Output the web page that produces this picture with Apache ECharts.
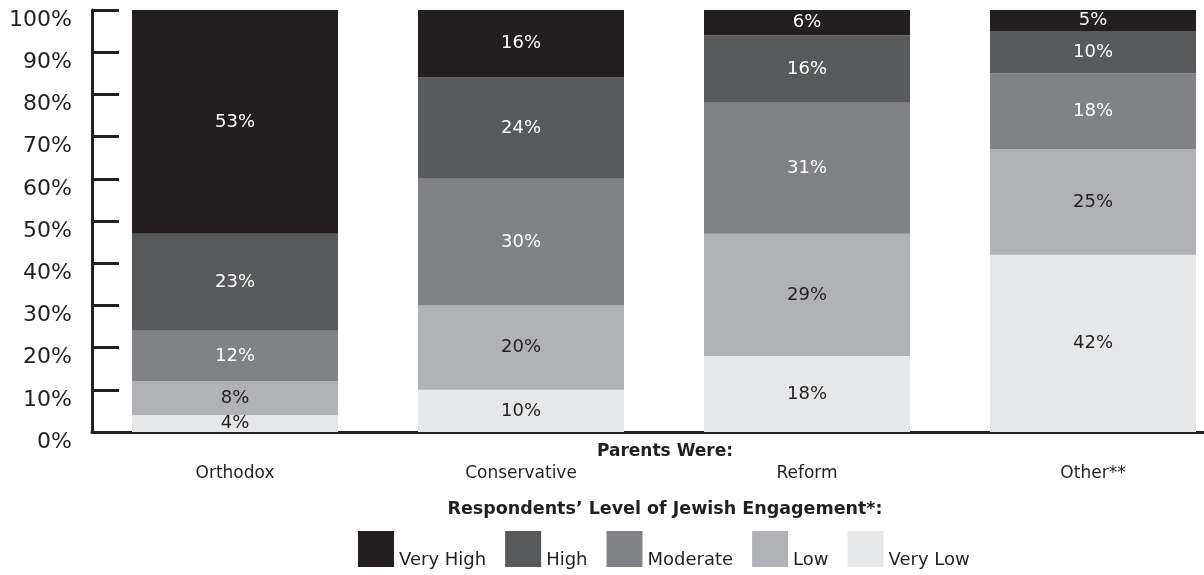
<!DOCTYPE html>
<html lang="en" style="height: 100%">
<head>
<meta charset="utf-8">
<title>Jewish Engagement by Parents' Denomination</title>
</head>
<body style="height: 100%; margin: 0; background: #fff">
<div id="container" style="height: 100%"></div>
<script type="text/javascript" src="https://cdn.jsdelivr.net/npm/echarts/dist/echarts.min.js"></script>
<script type="text/javascript">

var dom = document.getElementById('container');
var myChart = echarts.init(dom);

// Data
var categories = ['Orthodox', 'Conservative', 'Reform', 'Other**'];
var veryLow = [4, 10, 18, 42];
var low = [8, 20, 29, 25];
var moderate = [12, 30, 31, 18];
var high = [23, 24, 16, 10];
var veryHigh = [53, 16, 6, 5];
var yTicks = [0, 10, 20, 30, 40, 50, 60, 70, 80, 90, 100];

var ink = '#231f20';
var font = 'DejaVu Sans';

function makeSeries(name, data, color, labelColor) {
  return {
    name: name,
    type: 'bar',
    stack: 'total',
    barWidth: 206,
    data: data,
    itemStyle: { color: color },
    label: {
      show: true,
      position: 'inside',
      formatter: '{c}%',
      color: labelColor,
      fontFamily: font,
      fontSize: 18
    },
    emphasis: { disabled: true }
  };
}

var option = {
  animation: false,
  textStyle: { fontFamily: font, color: ink },
  grid: {
    left: 92,
    top: 10,
    width: 1144,
    bottom: 143,
    outerBoundsMode: 'none'
  },
  legend: {
    data: ['Very High', 'High', 'Moderate', 'Low', 'Very Low'],
    left: 353,
    top: 526,
    itemWidth: 36,
    itemHeight: 36,
    itemGap: 19,
    icon: 'rect',
    formatter: '{t|{name}}',
    textStyle: {
      fontFamily: font,
      fontSize: 18,
      color: ink,
      rich: {
        t: { fontFamily: font, fontSize: 18, color: ink, padding: [22, 0, 0, 0] }
      }
    }
  },
  graphic: [
    {
      type: 'text',
      x: 665,
      y: 452,
      style: {
        text: 'Parents Were:',
        font: 'bold 17px "DejaVu Sans"',
        fill: ink,
        align: 'center',
        verticalAlign: 'middle'
      }
    },
    {
      type: 'text',
      x: 665,
      y: 509,
      style: {
        text: 'Respondents\u2019 Level of Jewish Engagement*:',
        font: 'bold 17.5px "DejaVu Sans"',
        fill: ink,
        align: 'center',
        verticalAlign: 'middle'
      }
    }
  ],
  xAxis: {
    type: 'category',
    data: categories,
    axisLine: { lineStyle: { color: ink, width: 3 } },
    axisTick: { show: false },
    axisLabel: {
      margin: 33,
      fontFamily: font,
      fontSize: 17,
      color: ink
    }
  },
  yAxis: {
    type: 'value',
    min: yTicks[0],
    max: yTicks[yTicks.length - 1],
    interval: 10,
    axisLine: { show: true, lineStyle: { color: ink, width: 3 } },
    axisTick: { show: true, inside: true, length: 27, lineStyle: { color: ink, width: 3 } },
    splitLine: { show: false },
    axisLabel: {
      margin: 20,
      formatter: '{v|{value}%}',
      rich: {
        v: { fontFamily: font, fontSize: 22, color: ink, padding: [20, 0, 0, 0] }
      }
    }
  },
  series: [
    makeSeries('Very Low', veryLow, '#e6e7e8', ink),
    makeSeries('Low', low, '#b1b2b5', ink),
    makeSeries('Moderate', moderate, '#808285', '#ffffff'),
    makeSeries('High', high, '#58595b', '#ffffff'),
    makeSeries('Very High', veryHigh, '#231f20', '#ffffff')
  ]
};

myChart.setOption(option);
window.addEventListener('resize', myChart.resize);
</script>
</body>
</html>
